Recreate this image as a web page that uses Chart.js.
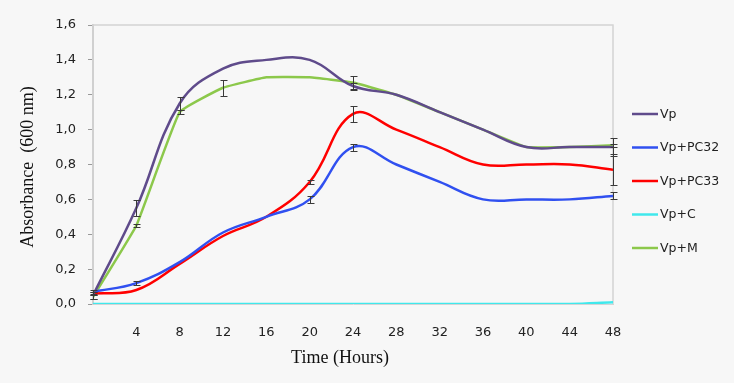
<!DOCTYPE html>
<html lang="en">
<head>
  <meta charset="UTF-8">
  <title>Absorbance</title>
  <style>
    body { margin: 0; background: #f7f7f7; }
    #wrap { width: 734px; height: 383px; }
  </style>
</head>
<body>
  <div id="wrap">
    <canvas id="graphic" width="734" height="383"></canvas>
  </div>

  <script src="https://cdn.jsdelivr.net/npm/chart.js"></script>
  <script>
    const horas = [0, 4, 8, 12, 16, 20, 24, 28, 32, 36, 40, 44, 48];
    const series = ["Vp", "Vp+PC32", "Vp+PC33", "Vp+C", "Vp+M"];

    const vp      = [0.05, 0.55, 1.15, 1.35, 1.40, 1.40, 1.25, 1.20, 1.10, 1.00, 0.90, 0.90, 0.90];
    const vpPC32  = [0.07, 0.12, 0.24, 0.41, 0.50, 0.60, 0.90, 0.80, 0.70, 0.60, 0.60, 0.60, 0.62];
    const vpPC33  = [0.06, 0.08, 0.23, 0.39, 0.50, 0.70, 1.09, 1.00, 0.90, 0.80, 0.80, 0.80, 0.77];
    const vpC     = [0.00, 0.00, 0.00, 0.00, 0.00, 0.00, 0.00, 0.00, 0.00, 0.00, 0.00, 0.00, 0.01];
    const vpM     = [0.04, 0.45, 1.10, 1.24, 1.30, 1.30, 1.27, 1.20, 1.10, 1.00, 0.90, 0.90, 0.91];

    // desviaciones (null = sin barra)
    const errVp     = [0.02, 0.045, 0.035, null, null, null, 0.02, null, null, null, null, null, 0.05];
    const errPC32   = [0.01, 0.01, null, null, null, 0.02, 0.02, null, null, null, null, null, 0.02];
    const errPC33   = [0.01, null, null, null, null, 0.01, 0.045, null, null, null, null, null, 0.09];
    const errC      = [null, null, null, null, null, null, null, null, null, null, null, null, null];
    const errM      = [0.01, 0.01, 0.01, 0.045, null, null, 0.035, null, null, null, null, null, 0.01];

    const yTicks = [0, 0.2, 0.4, 0.6, 0.8, 1.0, 1.2, 1.4, 1.6];
    const tituloX = 'Time (Hours)';
    const tituloY = 'Absorbance  (600 nm)';

    const toXY = arr => arr.map((v, i) => ({ x: horas[i], y: v }));

    // barras de error
    const errorBars = {
      id: 'errorBars',
      afterDatasetsDraw(chart) {
        const ctx = chart.ctx;
        const y = chart.scales.y;
        ctx.save();
        ctx.strokeStyle = '#3a3a3a';
        ctx.lineWidth = 1;
        chart.data.datasets.forEach((ds, di) => {
          const meta = chart.getDatasetMeta(di);
          (ds.errores || []).forEach((e, i) => {
            if (e == null) return;
            const px = Math.round(meta.data[i].x) + 0.5;
            const v = ds.data[i].y;
            const top = Math.round(y.getPixelForValue(v + e)) + 0.5;
            const bot = Math.round(y.getPixelForValue(v - e)) + 0.5;
            ctx.beginPath();
            ctx.moveTo(px, top); ctx.lineTo(px, bot);
            ctx.moveTo(px - 3, top); ctx.lineTo(px + 4, top);
            ctx.moveTo(px - 3, bot); ctx.lineTo(px + 4, bot);
            ctx.stroke();
          });
        });
        ctx.restore();
      }
    };

    // marco superior/derecho del area y titulos de ejes
    const marco = {
      id: 'marco',
      beforeDatasetsDraw(chart) {
        const { ctx, chartArea: a } = chart;
        ctx.save();
        ctx.strokeStyle = '#d4d4d4';
        ctx.lineWidth = 1.5;
        ctx.beginPath();
        ctx.moveTo(a.left, a.top);
        ctx.lineTo(a.right, a.top);
        ctx.lineTo(a.right, a.bottom);
        ctx.stroke();

        ctx.fillStyle = '#111';
        ctx.font = '18px "Liberation Serif"';
        ctx.textAlign = 'center';
        ctx.textBaseline = 'middle';
        ctx.fillText(tituloX, 340, 358);
        ctx.translate(28, 167);
        ctx.rotate(-Math.PI / 2);
        ctx.fillText(tituloY, 0, 0);
        ctx.restore();
      }
    };

    // leyenda a la derecha
    const leyenda = {
      id: 'leyenda',
      afterDraw(chart) {
        const ctx = chart.ctx;
        ctx.save();
        ctx.font = '12.5px "DejaVu Sans"';
        ctx.textBaseline = 'middle';
        ctx.fillStyle = '#222';
        chart.data.datasets.forEach((ds, i) => {
          const yy = 114 + i * 33.5;
          ctx.strokeStyle = ds.borderColor;
          ctx.lineWidth = 2.5;
          ctx.beginPath();
          ctx.moveTo(632, yy); ctx.lineTo(658, yy);
          ctx.stroke();
          ctx.fillText(ds.label, 660, yy + 0.5);
        });
        ctx.restore();
      }
    };

    const colores = ['#5f4b8b', '#3050f0', '#ff0000', '#40e8ec', '#8cc84b'];
    const datos = [vp, vpPC32, vpPC33, vpC, vpM];
    const errores = [errVp, errPC32, errPC33, errC, errM];

    new Chart(document.getElementById('graphic'), {
      type: 'line',
      data: {
        datasets: series.map((s, i) => ({
          label: s,
          data: toXY(datos[i]),
          errores: errores[i],
          borderColor: colores[i],
          borderWidth: 2.5,
          pointRadius: 0,
          tension: s === 'Vp+M' ? 0.1 : 0.4,
          fill: false
        }))
      },
      options: {
        responsive: false,
        animation: false,
        layout: { padding: { top: 25, right: 121, left: 0, bottom: 0 } },
        plugins: {
          legend: { display: false },
          tooltip: { enabled: false }
        },
        scales: {
          x: {
            type: 'linear',
            min: 0,
            max: 48,
            afterFit: s => { s.height = 79; },
            ticks: {
              stepSize: 4,
              padding: 13,
              color: '#222',
              font: { family: 'DejaVu Sans', size: 13 },
              callback: v => v === 0 ? '' : v
            },
            grid: { display: false },
            border: { display: true, color: '#d4d4d4', width: 1 }
          },
          y: {
            min: 0,
            max: 1.6,
            afterFit: s => { s.width = 93; },
            afterBuildTicks: s => { s.ticks = yTicks.map(v => ({ value: v })); },
            ticks: {
              padding: 12,
              color: '#222',
              font: { family: 'DejaVu Sans', size: 13 },
              callback: v => v.toFixed(1).replace('.', ',')
            },
            grid: { drawOnChartArea: false, drawTicks: true, tickLength: 5, color: '#999' },
            border: { display: true, color: '#d0d0d0', width: 2 }
          }
        }
      },
      plugins: [marco, errorBars, leyenda]
    });
  </script>
</body>
</html>
